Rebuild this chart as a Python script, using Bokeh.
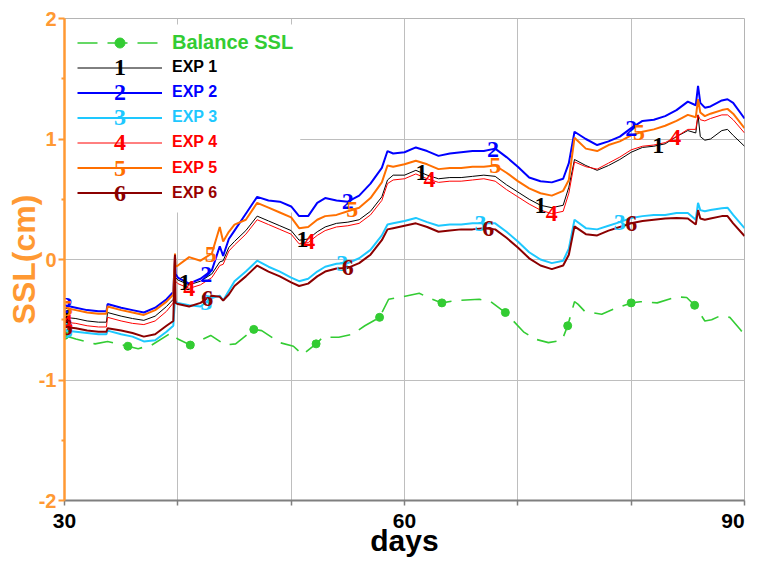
import numpy as np
from bokeh.plotting import figure
from bokeh.models import (Range1d, FixedTicker, Legend, LegendItem, Label,
                          BoxAnnotation, ColumnDataSource)
from bokeh.core.properties import value
from bokeh.embed import file_html
from bokeh.resources import INLINE

# ---------------- data ----------------
days = [30, 31, 32, 33, 33.7, 33.8, 35, 36, 37, 38, 39, 39.6, 39.75, 39.8, 40, 41, 42, 43,
        43.7, 44, 44.5, 45, 46, 47, 48, 49, 50, 50.7, 51.5, 52.3, 53, 54, 55, 56, 57, 58,
        58.5, 59, 60, 61, 62, 63, 64, 65, 66, 67, 68, 69, 70, 71, 72, 73, 74, 74.5, 75, 76,
        77, 78, 79, 80, 81, 82, 83, 84, 85, 85.7, 85.9, 86.1, 86.5, 87, 88, 88.5, 89, 90]

exp1 = [-0.48, -0.49, -0.51, -0.52, -0.52, -0.44, -0.47, -0.49, -0.505, -0.47, -0.39, -0.33, 0.03,
        -0.15, -0.17, -0.21, -0.18, -0.12, -0.02, -0.01, 0.10, 0.15, 0.24, 0.36, 0.32, 0.28, 0.24,
        0.16, 0.17, 0.23, 0.27, 0.30, 0.31, 0.33, 0.40, 0.52, 0.66, 0.70, 0.70, 0.74, 0.70, 0.67,
        0.68, 0.68, 0.69, 0.70, 0.69, 0.62, 0.56, 0.50, 0.45, 0.43, 0.45, 0.60, 0.83, 0.78, 0.74,
        0.78, 0.83, 0.89, 0.93, 0.94, 0.96, 1.02, 1.07, 1.05, 1.20, 1.02, 0.99, 1.00, 1.07, 1.08,
        1.03, 0.94]
exp2 = [-0.38, -0.40, -0.42, -0.43, -0.43, -0.37, -0.40, -0.42, -0.44, -0.40, -0.33, -0.27, 0.03,
        -0.12, -0.15, -0.20, -0.16, -0.09, 0.11, 0.03, 0.17, 0.24, 0.38, 0.52, 0.49, 0.48, 0.44,
        0.36, 0.36, 0.47, 0.51, 0.49, 0.48, 0.53, 0.63, 0.76, 0.90, 0.88, 0.89, 0.93, 0.90, 0.86,
        0.88, 0.89, 0.90, 0.90, 0.92, 0.85, 0.77, 0.68, 0.65, 0.64, 0.67, 0.80, 1.06, 1.00, 0.95,
        0.98, 1.02, 1.09, 1.15, 1.16, 1.19, 1.24, 1.31, 1.28, 1.44, 1.30, 1.26, 1.27, 1.32, 1.33,
        1.30, 1.17]
exp3 = [-0.59, -0.60, -0.61, -0.62, -0.62, -0.59, -0.62, -0.64, -0.68, -0.67, -0.60, -0.55, -0.33,
        -0.35, -0.36, -0.38, -0.39, -0.32, -0.30, -0.34, -0.26, -0.18, -0.10, -0.01, -0.06, -0.10,
        -0.15, -0.18, -0.16, -0.10, -0.06, -0.035, -0.03, 0.01, 0.08, 0.20, 0.29, 0.30, 0.32,
        0.345, 0.31, 0.28, 0.29, 0.29, 0.30, 0.30, 0.30, 0.23, 0.15, 0.06, 0.00, -0.03, -0.01,
        0.09, 0.33, 0.26, 0.25, 0.28, 0.31, 0.345, 0.36, 0.37, 0.37, 0.385, 0.385, 0.33, 0.47,
        0.41, 0.40, 0.41, 0.425, 0.43, 0.37, 0.26]
exp4 = [-0.52, -0.53, -0.55, -0.56, -0.56, -0.48, -0.51, -0.53, -0.54, -0.51, -0.43, -0.36, 0.03,
        -0.18, -0.20, -0.24, -0.21, -0.15, -0.05, -0.04, 0.07, 0.12, 0.21, 0.33, 0.29, 0.25, 0.21,
        0.13, 0.14, 0.20, 0.24, 0.27, 0.28, 0.30, 0.37, 0.49, 0.63, 0.66, 0.67, 0.71, 0.67, 0.64,
        0.65, 0.65, 0.66, 0.67, 0.65, 0.58, 0.52, 0.46, 0.41, 0.38, 0.40, 0.55, 0.81, 0.77, 0.75,
        0.80, 0.85, 0.91, 0.94, 0.95, 0.97, 1.02, 1.08, 1.08, 1.20, 1.16, 1.15, 1.17, 1.20, 1.20,
        1.16, 1.05]
exp5 = [-0.40, -0.42, -0.44, -0.45, -0.45, -0.39, -0.42, -0.44, -0.46, -0.42, -0.35, -0.29, 0.05,
        -0.06, -0.05, 0.02, -0.01, 0.05, 0.27, 0.15, 0.23, 0.29, 0.33, 0.47, 0.43, 0.39, 0.35,
        0.26, 0.27, 0.33, 0.36, 0.37, 0.40, 0.43, 0.51, 0.64, 0.78, 0.77, 0.79, 0.82, 0.79, 0.75,
        0.76, 0.76, 0.77, 0.77, 0.78, 0.72, 0.65, 0.59, 0.55, 0.53, 0.57, 0.66, 1.01, 0.92, 0.90,
        0.95, 0.98, 1.03, 1.06, 1.08, 1.11, 1.15, 1.20, 1.18, 1.33, 1.22, 1.19, 1.21, 1.24, 1.25,
        1.21, 1.09]
exp6 = [-0.56, -0.57, -0.59, -0.60, -0.60, -0.57, -0.59, -0.61, -0.64, -0.62, -0.55, -0.51, 0.04,
        -0.36, -0.37, -0.39, -0.36, -0.30, -0.31, -0.34, -0.29, -0.22, -0.14, -0.05, -0.10, -0.14,
        -0.19, -0.22, -0.20, -0.14, -0.10, -0.075, -0.07, -0.03, 0.04, 0.16, 0.25, 0.26, 0.28,
        0.30, 0.27, 0.23, 0.24, 0.25, 0.25, 0.26, 0.25, 0.18, 0.10, 0.01, -0.05, -0.08, -0.05,
        0.04, 0.275, 0.21, 0.20, 0.24, 0.27, 0.30, 0.32, 0.33, 0.34, 0.345, 0.34, 0.29, 0.41,
        0.34, 0.33, 0.34, 0.36, 0.36, 0.30, 0.195]

bal_days = [30, 31, 32.7, 33.8, 35.6, 36.5, 37.7, 39.4, 40, 41.1, 42, 42.9, 44.2, 45.1, 45.9,
            46.7, 47.4, 49, 50.2, 51, 52.2, 52.8, 54.2, 55.4, 56.5, 57.8, 58.6, 59.8, 61.3, 62.2,
            63.3, 64.6, 66.6, 67.6, 68.9, 70.5, 71.5, 72.7, 73.9, 74.4, 75, 75.3, 75.9, 77.4,
            78.5, 80, 80.8, 82.3, 84, 84.9, 85.6, 86.5, 87.1, 87.8, 88.7, 89.7, 90]
bal_vals = [-0.63, -0.66, -0.70, -0.68, -0.72, -0.74, -0.71, -0.61, -0.66, -0.71, -0.67, -0.63,
            -0.71, -0.70, -0.64, -0.58, -0.59, -0.69, -0.72, -0.79, -0.70, -0.645, -0.645, -0.62,
            -0.55, -0.48, -0.33, -0.31, -0.28, -0.32, -0.36, -0.34, -0.33, -0.35, -0.44, -0.60,
            -0.66, -0.69, -0.67, -0.55, -0.35, -0.37, -0.43, -0.455, -0.41, -0.36, -0.35, -0.36,
            -0.31, -0.315, -0.38, -0.51, -0.50, -0.47, -0.48, -0.59, -0.62]
bal_marker_days = [30, 35.6, 41.1, 46.7, 52.2, 57.8, 63.3, 68.9, 74.4, 80, 85.6]

# where the curve-number tags sit (days)
tag_days = {
    "1": [30.2, 40.6, 51.0, 61.5, 72.0, 82.4],
    "2": [30.2, 42.5, 55.0, 67.8, 80.0],
    "3": [30.2, 42.5, 54.5, 66.7, 79.0],
    "4": [30.2, 41.0, 51.6, 62.2, 73.0, 83.9],
    "5": [30.2, 42.9, 55.4, 68.0, 80.7],
    "6": [30.2, 42.6, 55.0, 67.4, 80.0],
}

x_ticks = [30, 40, 50, 60, 70, 80, 90]
x_tick_labels = {30: "30", 40: "", 50: "", 60: "60", 70: "", 80: "", 90: "90\u00a0"}
y_ticks = [-2, -1, 0, 1, 2]
y_minor = [-1.5, -0.5, 0.5, 1.5]
y_tick_labels = {-2: "-2", -1: "-1", 0: "0", 1: "1", 2: "2"}

# ---------------- style ----------------
ORANGE_AX = "#FF9933"
GREEN = "#33CC33"
series = [
    ("1", "EXP 1", exp1, "#000000", 1.0, "#000000"),
    ("2", "EXP 2", exp2, "#0000FF", 2.0, "#0000FF"),
    ("3", "EXP 3", exp3, "#1EC8FF", 2.0, "#1EC8FF"),
    ("4", "EXP 4", exp4, "#FF0000", 1.0, "#FF0000"),
    ("5", "EXP 5", exp5, "#FF6F00", 2.0, "#FF0000"),
    ("6", "EXP 6", exp6, "#8B0000", 2.0, "#990000"),
]
SANS = "Liberation Sans"
SERIF = "Liberation Serif"

W, H = 750, 561
BL, BR, BT, BB = 64, 6, 18, 61
FW, FH = W - BL - BR, H - BT - BB

p = figure(width=W, height=H, output_backend="svg", toolbar_location=None,
           x_range=Range1d(30, 90), y_range=Range1d(-2, 2), title=None,
           min_border_left=BL, min_border_right=BR, min_border_top=BT, min_border_bottom=BB)
p.background_fill_color = "white"
p.border_fill_color = "white"
p.outline_line_color = "#B4B4B4"
p.outline_line_width = 1

# axes
xa = p.xaxis[0]
xa.ticker = FixedTicker(ticks=x_ticks, minor_ticks=[])
xa.major_label_overrides = x_tick_labels
xa.axis_line_color = "#7F7F7F"
xa.axis_line_width = 2
xa.major_tick_line_color = "#7F7F7F"
xa.major_tick_line_width = 1.5
xa.major_tick_out = 5
xa.major_tick_in = 0
xa.minor_tick_line_color = None
xa.major_label_standoff = 3
xa.major_label_text_font = SANS
xa.major_label_text_font_style = "bold"
xa.major_label_text_font_size = "21px"
xa.major_label_text_color = "black"
xa.axis_label = "days"
xa.axis_label_text_font = SANS
xa.axis_label_text_font_style = "bold"
xa.axis_label_text_font_size = "30px"
xa.axis_label_text_color = "black"
xa.axis_label_standoff = -11

ya = p.yaxis[0]
ya.ticker = FixedTicker(ticks=y_ticks, minor_ticks=y_minor)
ya.major_label_overrides = y_tick_labels
ya.axis_line_color = ORANGE_AX
ya.axis_line_width = 2.5
ya.major_tick_line_color = ORANGE_AX
ya.major_tick_line_width = 2
ya.major_tick_out = 6
ya.major_tick_in = 0
ya.minor_tick_line_color = ORANGE_AX
ya.minor_tick_line_width = 2
ya.minor_tick_out = 3
ya.minor_tick_in = 0
ya.major_label_standoff = 2
ya.major_label_text_font = SANS
ya.major_label_text_font_style = "bold"
ya.major_label_text_font_size = "20px"
ya.major_label_text_color = ORANGE_AX
ya.axis_label = "SSL(cm)"
ya.axis_label_text_font = SANS
ya.axis_label_text_font_style = "bold"
ya.axis_label_text_font_size = "32px"
ya.axis_label_text_color = ORANGE_AX
ya.axis_label_standoff = -6

for g in (p.xgrid[0], p.ygrid[0]):
    g.grid_line_color = "#BEBEBE"
    g.grid_line_width = 1

# white legend panel hiding the grid
p.add_layout(BoxAnnotation(left=30, right=50.8, bottom=0.39, top=1.95,
                           fill_color="white", fill_alpha=1.0, line_alpha=0,
                           level="underlay"))

# curves
src = ColumnDataSource(dict(day=days, e1=exp1, e2=exp2, e3=exp3, e4=exp4, e5=exp5, e6=exp6))
bsrc = ColumnDataSource(dict(day=bal_days, v=bal_vals))
msrc = ColumnDataSource(dict(day=bal_marker_days,
                             v=list(np.interp(bal_marker_days, bal_days, bal_vals))))

bal_line = p.line("day", "v", source=bsrc, line_color=GREEN, line_width=1.6, line_dash="20 10")
bal_mark = p.scatter("day", "v", source=msrc, marker="circle", size=8,
                     fill_color=GREEN, line_color=GREEN)

line_renderers = {}
for key, name, vals, col, lw, tcol in series:
    line_renderers[key] = p.line("day", "e" + key, source=src, line_color=col, line_width=lw)

for key, name, vals, col, lw, tcol in series:
    td = tag_days[key]
    ty = list(np.interp(td, days, vals))
    p.text(x=td, y=ty, text=[key] * len(td), text_color=col,
           text_font=value(SERIF), text_font_size="24px", text_font_style="bold",
           text_align="center", text_baseline="middle")

# legends (one per entry so each label keeps its own colour)
entries = [("Balance SSL", [bal_line, bal_mark], GREEN, "20px", None, None)]
for key, name, vals, col, lw, tcol in series:
    entries.append((name, [line_renderers[key]], tcol, "16px", key, col))

ROW0, ROWH = 42.0 - BT, 25.1   # row centres measured from the frame top
for i, (label, rs, tcol, fsize, digit, dcol) in enumerate(entries):
    center = ROW0 + ROWH * i
    vy = FH - (center + 12.5)
    leg = Legend(items=[LegendItem(label=label, renderers=rs)], location=(13, vy),
                 orientation="vertical", padding=0, margin=0, spacing=0,
                 glyph_width=85, glyph_height=25, label_height=25, label_width=20,
                 label_standoff=10, border_line_alpha=0, background_fill_alpha=0,
                 label_text_color=tcol, label_text_font=SANS, label_text_font_style="bold",
                 label_text_font_size=fsize, label_text_baseline="middle")
    p.add_layout(leg)
    if digit is not None:
        p.add_layout(Label(x=13 + 42.5, y=FH - center, x_units="screen", y_units="screen",
                           text=digit, text_color=dcol, text_font=SERIF,
                           text_font_size="24px", text_font_style="bold",
                           text_align="center", text_baseline="middle"))

open("out.html", "w").write(file_html(p, INLINE))
